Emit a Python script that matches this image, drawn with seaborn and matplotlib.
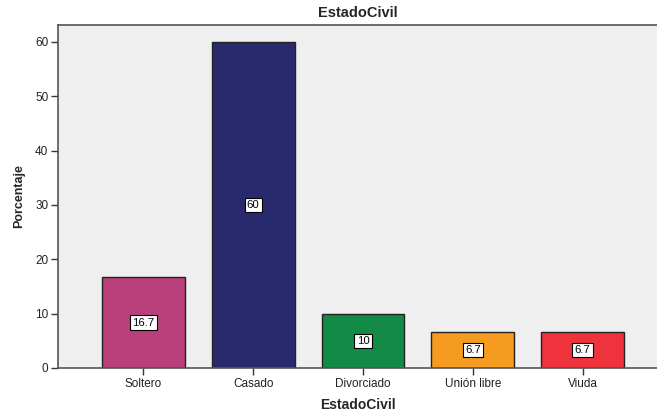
import matplotlib
matplotlib.use("Agg")
import matplotlib.pyplot as plt
import seaborn as sns
import pandas as pd

categories = ["Soltero", "Casado", "Divorciado", "Unión libre", "Viuda"]
values = [16.7, 60, 10, 6.7, 6.7]
labels = ["16.7", "60", "10", "6.7", "6.7"]
colors = ["#B9407B", "#292A6E", "#138A46", "#F59B1F", "#EE333C"]
yticks = [0, 10, 20, 30, 40, 50, 60]

sns.set_theme(style="white")
plt.rcParams['font.family'] = ['Liberation Sans', 'DejaVu Sans']

df = pd.DataFrame({"EstadoCivil": categories, "Porcentaje": values})

fig = plt.figure(figsize=(6.57, 4.12), dpi=100)
ax = fig.add_axes([58/657, 1-368/412, 1-58/657, (368-25)/412])
ax.set_facecolor("#EFEFEF")

sns.barplot(data=df, x="EstadoCivil", y="Porcentaje", hue="EstadoCivil",
            palette=colors, width=0.755, edgecolor="#222222", linewidth=1.0,
            legend=False, ax=ax, saturation=1)

for i, (v, lab) in enumerate(zip(values, labels)):
    ax.text(i, v/2, lab, ha="center", va="center", fontsize=8.2, color="black",
            bbox=dict(boxstyle="square,pad=0.2", fc="white", ec="black", lw=0.8))

ax.set_xlim(-0.777, 4.677)
ax.set_ylim(0, 63.1)
ax.set_yticks(yticks)
ax.set_yticklabels([str(t) for t in yticks])
ax.tick_params(axis="both", which="both", direction="out", length=5, width=1,
               color="#333333", labelsize=8.5, labelcolor="#222222", pad=2,
               bottom=True, left=True)

for s in ["left", "bottom", "top"]:
    ax.spines[s].set_visible(True)
    ax.spines[s].set_color("#555555")
    ax.spines[s].set_linewidth(1.2)
ax.spines["right"].set_visible(False)

ax.set_xlabel("EstadoCivil", fontsize=10, fontweight="bold", labelpad=6)
ax.set_ylabel("Porcentaje", fontsize=9, fontweight="bold", labelpad=7)
ax.set_title("EstadoCivil", fontsize=10.5, fontweight="bold", pad=6)

fig.savefig("out.png", dpi=100)
